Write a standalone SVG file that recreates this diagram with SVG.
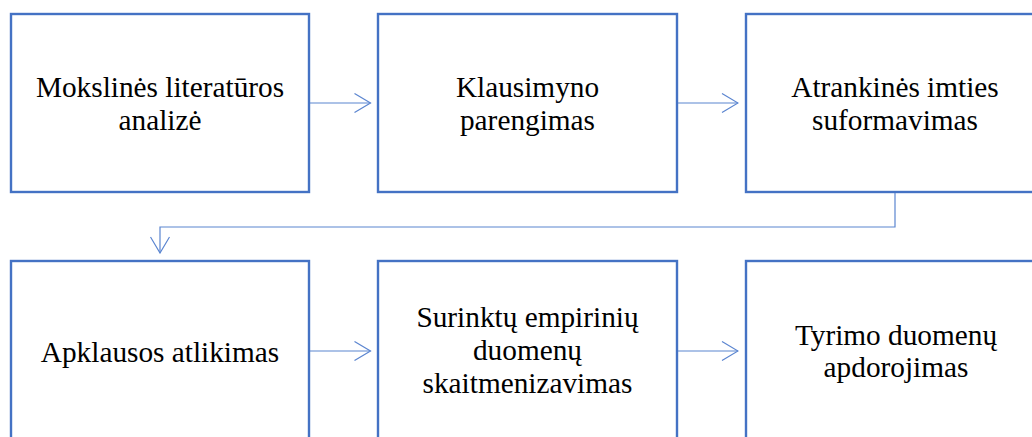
<svg xmlns="http://www.w3.org/2000/svg" width="1032" height="437" viewBox="0 0 1032 437">
  <defs>
    <style>
      .box { fill: #FFFFFF; stroke: #4472C4; stroke-width: 2.4; }
      .lbl { font-family: "Liberation Serif", "Times New Roman", serif; font-size: 29.3px; fill: #000000; text-anchor: middle; }
      .conn { fill: none; stroke: #5B85D0; stroke-width: 1.2; }
    </style>
    <marker id="arrow" viewBox="0 0 18 20" refX="17" refY="10" markerWidth="18" markerHeight="20" markerUnits="userSpaceOnUse" orient="auto">
      <path d="M1,0.5 L17,10 L1,19.5" fill="none" stroke="#5B85D0" stroke-width="1.2"/>
    </marker>
  </defs>
  <rect width="1032" height="437" fill="#FFFFFF"/>

  <g id="n1">
    <rect class="box" x="11" y="14" width="298" height="178"/>
    <text class="lbl" x="160" y="97">Mokslinės literatūros</text>
    <text class="lbl" x="160" y="129.5">analizė</text>
  </g>
  <g id="n2">
    <rect class="box" x="378" y="14" width="299" height="178"/>
    <text class="lbl" x="527.5" y="97">Klausimyno</text>
    <text class="lbl" x="527.5" y="129.5">parengimas</text>
  </g>
  <g id="n3">
    <rect class="box" x="746" y="14" width="298" height="178"/>
    <text class="lbl" x="895" y="97">Atrankinės imties</text>
    <text class="lbl" x="895" y="129.5">suformavimas</text>
  </g>
  <g id="n4">
    <rect class="box" x="11" y="261" width="298" height="190"/>
    <text class="lbl" x="160" y="362">Apklausos atlikimas</text>
  </g>
  <g id="n5">
    <rect class="box" x="378" y="261" width="299" height="190"/>
    <text class="lbl" x="527.5" y="327">Surinktų empirinių</text>
    <text class="lbl" x="527.5" y="360">duomenų</text>
    <text class="lbl" x="527.5" y="393">skaitmenizavimas</text>
  </g>
  <g id="n6">
    <rect class="box" x="746" y="261" width="298" height="190"/>
    <text class="lbl" x="896" y="345">Tyrimo duomenų</text>
    <text class="lbl" x="896" y="377">apdorojimas</text>
  </g>

  <g id="connectors">
    <path class="conn" d="M310,103 H370.5" marker-end="url(#arrow)"/>
    <path class="conn" d="M678,103 H738" marker-end="url(#arrow)"/>
    <path class="conn" d="M895,193 V227 H160 V253" marker-end="url(#arrow)"/>
    <path class="conn" d="M310,351 H370.5" marker-end="url(#arrow)"/>
    <path class="conn" d="M678,351 H738" marker-end="url(#arrow)"/>
  </g>
</svg>
